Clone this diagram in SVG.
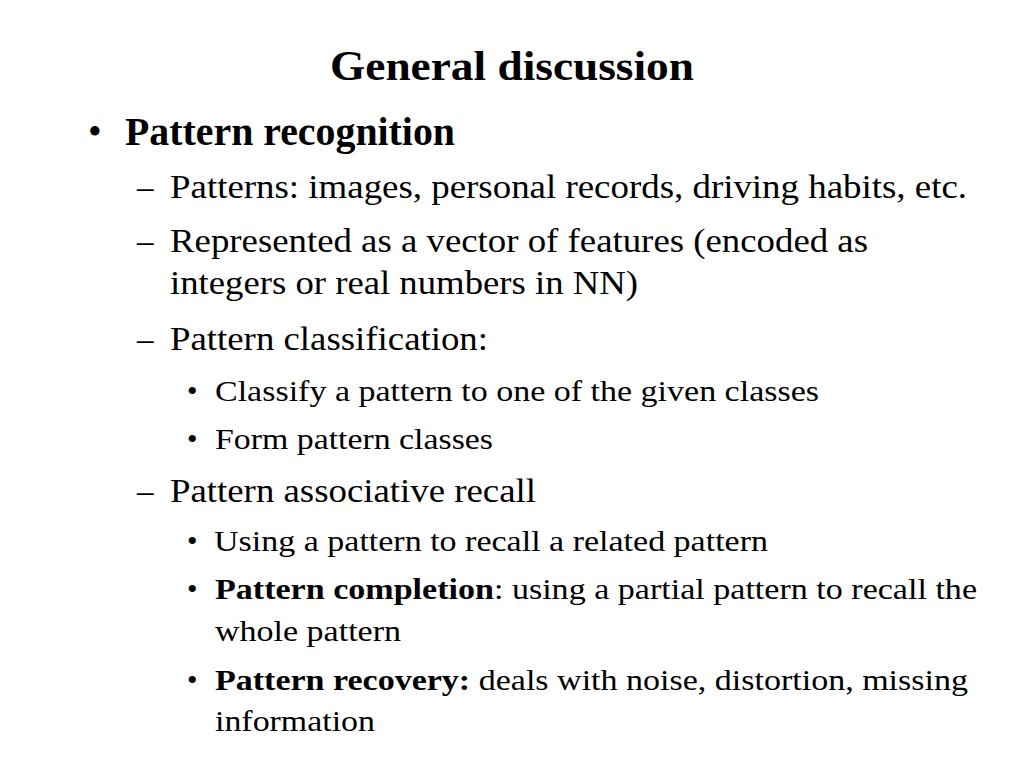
<svg xmlns="http://www.w3.org/2000/svg" width="1024" height="768" viewBox="0 0 1024 768">
<style>
text{font-family:"Liberation Serif","Times New Roman",serif;fill:#000}
.t{font-size:43px;font-weight:bold}
.l1{font-size:39px}
.l2{font-size:33px}
.l3{font-size:30px}
.b{font-weight:bold}
</style>
<rect width="1024" height="768" fill="#fff"/>
<g id="title"><text class="t" x="330" y="80" textLength="364" lengthAdjust="spacingAndGlyphs">General discussion</text></g>
<g id="item-pattern-recognition">
<text class="l1" x="88" y="145">•</text>
<text class="l1 b" x="125" y="145" textLength="330" lengthAdjust="spacingAndGlyphs">Pattern recognition</text>
</g>
<g id="item-patterns">
<text class="l2" x="137" y="198">–</text>
<text class="l2" x="170" y="198" textLength="797" lengthAdjust="spacingAndGlyphs">Patterns: images, personal records, driving habits, etc.</text>
</g>
<g id="item-represented">
<text class="l2" x="137" y="252">–</text>
<text class="l2" x="170" y="252" textLength="698" lengthAdjust="spacingAndGlyphs">Represented as a vector of features (encoded as</text>
<text class="l2" x="170" y="294" textLength="468" lengthAdjust="spacingAndGlyphs">integers or real numbers in NN)</text>
</g>
<g id="item-classification">
<text class="l2" x="137" y="350">–</text>
<text class="l2" x="170" y="350" textLength="318" lengthAdjust="spacingAndGlyphs">Pattern classification:</text>
<text class="l3" x="187" y="401">•</text>
<text class="l3" x="215" y="401" textLength="604" lengthAdjust="spacingAndGlyphs">Classify a pattern to one of the given classes</text>
<text class="l3" x="187" y="449">•</text>
<text class="l3" x="215" y="449" textLength="278" lengthAdjust="spacingAndGlyphs">Form pattern classes</text>
</g>
<g id="item-associative">
<text class="l2" x="137" y="502">–</text>
<text class="l2" x="170" y="502" textLength="366" lengthAdjust="spacingAndGlyphs">Pattern associative recall</text>
<text class="l3" x="187" y="551">•</text>
<text class="l3" x="214" y="551" textLength="554" lengthAdjust="spacingAndGlyphs">Using a pattern to recall a related pattern</text>
<text class="l3" x="187" y="599">•</text>
<text class="l3" x="215" y="599" textLength="762" lengthAdjust="spacingAndGlyphs"><tspan class="b">Pattern completion</tspan>: using a partial pattern to recall the</text>
<text class="l3" x="215" y="641" textLength="186" lengthAdjust="spacingAndGlyphs">whole pattern</text>
<text class="l3" x="187" y="690">•</text>
<text class="l3" x="215" y="690" textLength="753" lengthAdjust="spacingAndGlyphs"><tspan class="b">Pattern recovery:</tspan> deals with noise, distortion, missing</text>
<text class="l3" x="215" y="731" textLength="160" lengthAdjust="spacingAndGlyphs">information</text>
</g>
</svg>
